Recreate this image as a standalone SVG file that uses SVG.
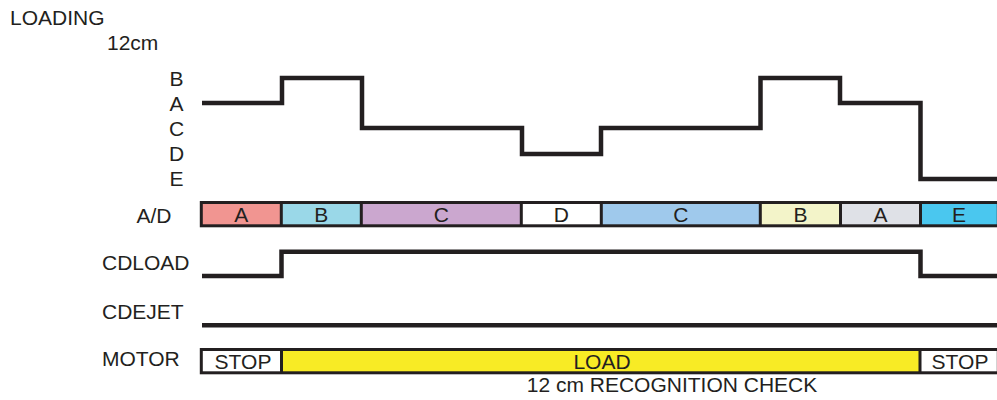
<svg xmlns="http://www.w3.org/2000/svg" width="997" height="400" viewBox="0 0 997 400">
<style>
text{font-family:"Liberation Sans",Arial,sans-serif;font-size:21px;fill:#231F20}
.m{text-anchor:middle}
.e{text-anchor:end}
.w{fill:none;stroke:#231F20;stroke-width:4.5;stroke-linejoin:miter;stroke-linecap:butt}
.seg{stroke:#231F20;stroke-width:3}
.div{stroke:#231F20;stroke-width:3}
</style>
<rect width="997" height="400" fill="#fff"/>
<g id="labels">
<text x="10" y="25">LOADING</text>
<text x="107" y="50">12cm</text>
<text class="m" x="176.5" y="86">B</text>
<text class="m" x="176.5" y="110.5">A</text>
<text class="m" x="176.5" y="136">C</text>
<text class="m" x="176.5" y="160.5">D</text>
<text class="m" x="176.5" y="185.5">E</text>
<text class="e" x="171.5" y="223">A/D</text>
<text x="102" y="270">CDLOAD</text>
<text x="102" y="319">CDEJET</text>
<text x="102" y="366">MOTOR</text>
</g>
<g id="connectors">
<path id="loading-wave" class="w" d="M202,103 H282 V78 H362 V128 H522 V154 H601 V128 H760.5 V78 H840 V103 H920.5 V179 H997"/>
<path id="cdload-wave" class="w" d="M202,276 H281.5 V251.7 H920.5 V276 H997"/>
<path id="cdejet-wave" class="w" d="M202,325.3 H997"/>
</g>
<g id="ad-bar">
<rect x="201.3" y="202.5" width="80" height="23.3" fill="#F19591"/>
<rect x="281.3" y="202.5" width="80" height="23.3" fill="#9AD8E8"/>
<rect x="361.3" y="202.5" width="160" height="23.3" fill="#CBA7CF"/>
<rect x="521.3" y="202.5" width="80" height="23.3" fill="#FFFFFF"/>
<rect x="601.3" y="202.5" width="159" height="23.3" fill="#9FC9EC"/>
<rect x="760.3" y="202.5" width="80.2" height="23.3" fill="#F3F4C9"/>
<rect x="840.5" y="202.5" width="80" height="23.3" fill="#DFE1E7"/>
<rect x="920.5" y="202.5" width="78" height="23.3" fill="#4AC7EF"/>
<rect class="seg" x="201.3" y="202.5" width="797" height="23.3" fill="none"/>
<path class="div" d="M281.3,202.5V225.8M361.3,202.5V225.8M521.3,202.5V225.8M601.3,202.5V225.8M760.3,202.5V225.8M840.5,202.5V225.8M920.5,202.5V225.8"/>
<text class="m" x="241.3" y="221.7">A</text>
<text class="m" x="321.3" y="221.7">B</text>
<text class="m" x="441.3" y="221.7">C</text>
<text class="m" x="561.3" y="221.7">D</text>
<text class="m" x="680.8" y="221.7">C</text>
<text class="m" x="800.4" y="221.7">B</text>
<text class="m" x="880.5" y="221.7">A</text>
<text class="m" x="959" y="221.7">E</text>
</g>
<g id="motor-bar">
<rect x="201.3" y="349.5" width="80.2" height="23.3" fill="#FFFFFF"/>
<rect x="281.5" y="349.5" width="638.5" height="23.3" fill="#F8EB25"/>
<rect x="920" y="349.5" width="78" height="23.3" fill="#FFFFFF"/>
<rect class="seg" x="201.3" y="349.5" width="797" height="23.3" fill="none"/>
<path class="div" d="M281.5,349.5V372.8M920,349.5V372.8"/>
<text class="m" x="243" y="369.3">STOP</text>
<text class="m" x="602" y="369.3">LOAD</text>
<text class="m" x="960" y="369.3">STOP</text>
<text class="m" x="672" y="392">12 cm RECOGNITION CHECK</text>
</g>
</svg>
